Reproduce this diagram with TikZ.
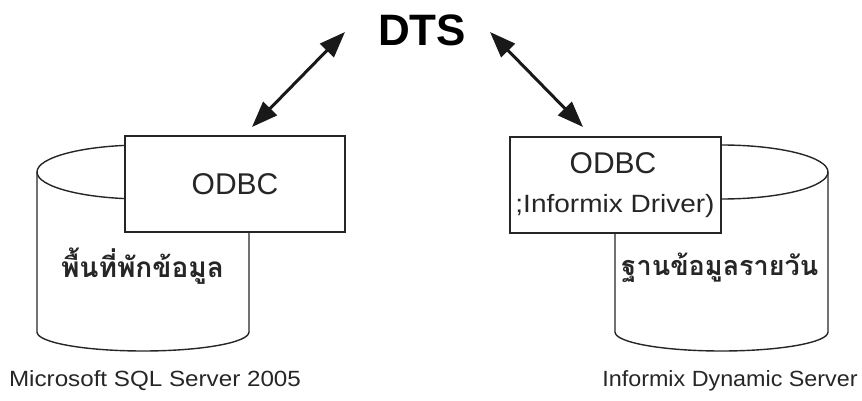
\documentclass[tikz,border=0pt]{standalone}
\usepackage{fontspec}
\setmainfont{Liberation Sans}
\newfontfamily\thaifont[Script=Thai]{Loma}
\usetikzlibrary{arrows.meta}
\tikzset{
  cyl/.style={draw=black!85, line width=1.4pt, fill=white},
  odbcbox/.style={draw=black!85, line width=2pt, fill=white, inner sep=0pt},
  dbl/.style={line width=3pt, black!90, {Triangle[length=26pt,width=19pt]}-{Triangle[length=26pt,width=19pt]}},
  lbl/.style={font=\fontsize{22}{24}\selectfont, text=black!85},
  thai/.style={font=\thaifont\bfseries\fontsize{28}{30}\selectfont, text=black!85},
}
\begin{document}
\begin{tikzpicture}[x=1pt,y=-1pt]
\useasboundingbox (0,0) rectangle (862,401);
% left cylinder
\draw[cyl] (37,172) -- (37,332) arc[start angle=180,end angle=0,x radius=106,y radius=19] -- (249,172);
\draw[cyl] (143,172) ellipse[x radius=106,y radius=27];
% right cylinder
\draw[cyl] (615,172) -- (615,332) arc[start angle=180,end angle=0,x radius=106.5,y radius=19] -- (828,172);
\draw[cyl] (721.5,172) ellipse[x radius=106.5,y radius=27];
% boxes
\node[odbcbox, minimum width=220pt, minimum height=96pt] (boxL) at (235,184) {};
\node[odbcbox, minimum width=211pt, minimum height=96pt] (boxR) at (615.5,185) {};
\node[font=\fontsize{30}{32}\selectfont, text=black!85] (odbcL) at (boxL.center) {ODBC};
\node[font=\fontsize{30}{32}\selectfont, text=black!85] (odbcR) at (613,163) {ODBC};
\node[font=\fontsize{25}{27}\selectfont, text=black!85, xscale=1.12] (drv) at (615,206) {;Informix Driver)};
% Thai labels
\node[thai] (thL) at (142.5,266) {พื้นที่พักข้อมูล};
\node[thai, font=\thaifont\bfseries\fontsize{27}{29}\selectfont] (thR) at (720,268) {ฐานข้อมูลรายวัน};
% bottom labels
\node[lbl, xscale=1.1] (msL) at (155,381) {Microsoft SQL Server 2005};
\node[lbl, xscale=1.06] (ifR) at (730,381) {Informix Dynamic Server};
% DTS
\node[font=\bfseries\fontsize{44}{46}\selectfont] (dts) at (422,30) {DTS};
\coordinate (aL1) at (252,127);
\coordinate (aL2) at (345,32);
\coordinate (aR1) at (490,32);
\coordinate (aR2) at (583,127);
\draw[dbl] (aL1) -- (aL2);
\draw[dbl] (aR1) -- (aR2);
\end{tikzpicture}
\end{document}
